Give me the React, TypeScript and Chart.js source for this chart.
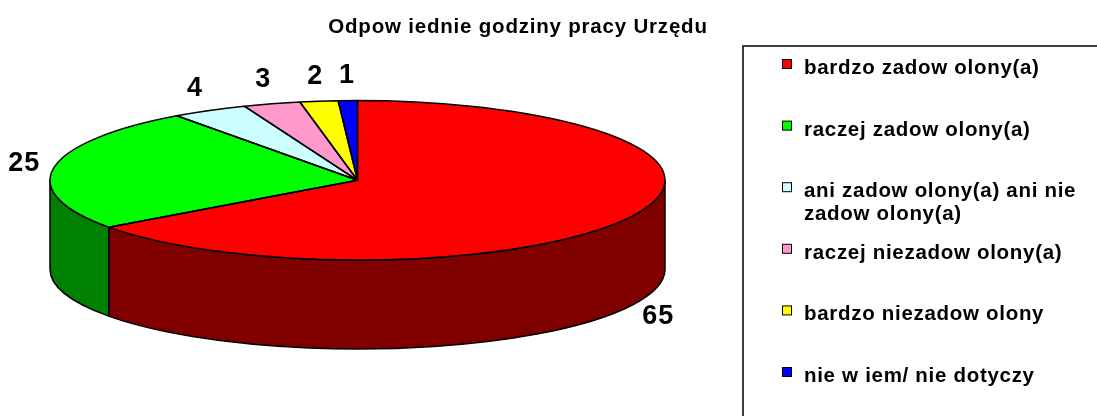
import React, { useEffect, useRef } from 'react';
import { Chart, registerables } from 'chart.js';

Chart.register(...registerables);

const title = 'Odpow iednie godziny pracy Urzędu';
const categories = [
  'bardzo zadow olony(a)',
  'raczej zadow olony(a)',
  'ani zadow olony(a) ani nie zadow olony(a)',
  'raczej niezadow olony(a)',
  'bardzo niezadow olony',
  'nie w iem/ nie dotyczy',
];
const values = [65, 25, 4, 3, 2, 1];
const topColors = ['#FF0000', '#00FF00', '#CCFFFF', '#FF99CC', '#FFFF00', '#0000FF'];
const sideColors = ['#800000', '#008000', '#668080', '#804C66', '#808000', '#000080'];

const FONT = '"Liberation Sans", Arial, sans-serif';
const PIE = { cx: 357.5, cy: 180.3, rx: 307.5, ry: 79.7, depth: 89 };
const LEGEND = { left: 743, top: 46, boxX: 782.5, textX: 804, firstBase: 74, rowGap: 61.6, lineGap: 23, maxW: 290 };

function wrap(ctx: CanvasRenderingContext2D, text: string, maxW: number): string[] {
  const words = text.split(' ');
  const lines: string[] = [];
  let cur = '';
  for (const w of words) {
    const t = cur ? cur + ' ' + w : w;
    if (cur && ctx.measureText(t).width > maxW) {
      lines.push(cur);
      cur = w;
    } else cur = t;
  }
  if (cur) lines.push(cur);
  return lines;
}

const pie3d = {
  id: 'pie3d',
  beforeDatasetsDraw(chart: any) {
    const ctx: CanvasRenderingContext2D = chart.ctx;
    const arcs = chart.getDatasetMeta(0).data;
    const { cx, cy, rx, ry, depth } = PIE;
    ctx.save();
    ctx.lineWidth = 1.5;
    ctx.strokeStyle = '#000';
    ctx.lineJoin = 'round';
    arcs.forEach((arc: any, i: number) => {
      const a0 = Math.max(arc.startAngle, 0);
      const a1 = Math.min(arc.endAngle, Math.PI);
      if (a1 <= a0) return;
      ctx.beginPath();
      ctx.ellipse(cx, cy, rx, ry, 0, a0, a1);
      ctx.lineTo(cx + rx * Math.cos(a1), cy + depth + ry * Math.sin(a1));
      ctx.ellipse(cx, cy + depth, rx, ry, 0, a1, a0, true);
      ctx.closePath();
      ctx.fillStyle = sideColors[i];
      ctx.fill();
      ctx.stroke();
    });
    ctx.restore();
    const a = arcs[0];
    const R = a.outerRadius;
    ctx.save();
    ctx.translate(cx, cy);
    ctx.scale(rx / R, ry / R);
    ctx.translate(-a.x, -a.y);
  },
  afterDatasetsDraw(chart: any) {
    const ctx: CanvasRenderingContext2D = chart.ctx;
    ctx.restore();
    const arcs = chart.getDatasetMeta(0).data;
    const { cx, cy, rx, ry, depth } = PIE;
    ctx.save();
    ctx.lineWidth = 1.5;
    ctx.strokeStyle = '#000';
    ctx.lineJoin = 'round';
    arcs.forEach((arc: any) => {
      ctx.beginPath();
      ctx.moveTo(cx, cy);
      ctx.ellipse(cx, cy, rx, ry, 0, arc.startAngle, arc.endAngle);
      ctx.closePath();
      ctx.stroke();
    });
    // data labels
    ctx.fillStyle = '#000';
    ctx.font = `bold 27px ${FONT}`;
    (ctx as any).letterSpacing = '1px';
    ctx.textAlign = 'center';
    ctx.textBaseline = 'middle';
    arcs.forEach((arc: any, i: number) => {
      const mid = (arc.startAngle + arc.endAngle) / 2;
      const s = Math.sin(mid);
      const x = cx + (rx + 30) * Math.cos(mid);
      const y = cy + (ry + 25) * s + (s > 0 ? depth : 0);
      ctx.fillText(String(chart.data.datasets[0].data[i]), x, y);
    });
    ctx.restore();
  },
  afterDraw(chart: any) {
    const ctx: CanvasRenderingContext2D = chart.ctx;
    ctx.save();
    // title
    ctx.fillStyle = '#000';
    ctx.font = `bold 20.5px ${FONT}`;
    (ctx as any).letterSpacing = '0.8px';
    ctx.textAlign = 'center';
    ctx.textBaseline = 'alphabetic';
    ctx.fillText(title, 518, 33);
    // legend box
    ctx.lineWidth = 1.5;
    ctx.strokeStyle = '#000';
    ctx.beginPath();
    ctx.moveTo(LEGEND.left, 430);
    ctx.lineTo(LEGEND.left, LEGEND.top);
    ctx.lineTo(1110, LEGEND.top);
    ctx.stroke();
    // legend items
    ctx.font = `bold 20.5px ${FONT}`;
    (ctx as any).letterSpacing = '0.7px';
    ctx.textAlign = 'left';
    const labels: string[] = chart.data.labels;
    const colors: string[] = chart.data.datasets[0].backgroundColor;
    labels.forEach((lab, i) => {
      const base = LEGEND.firstBase + i * LEGEND.rowGap;
      ctx.fillStyle = colors[i];
      ctx.fillRect(LEGEND.boxX, base - 14.5, 9, 9);
      ctx.lineWidth = 1;
      ctx.strokeRect(LEGEND.boxX, base - 14.5, 9, 9);
      ctx.fillStyle = '#000';
      const lines = wrap(ctx, lab, LEGEND.maxW);
      lines.forEach((ln, j) => ctx.fillText(ln, LEGEND.textX, base + j * LEGEND.lineGap));
    });
    ctx.restore();
  },
};

export default function App() {
  const ref = useRef<HTMLCanvasElement | null>(null);
  useEffect(() => {
    if (!ref.current) return;
    const chart = new Chart(ref.current, {
      type: 'pie',
      data: {
        labels: categories,
        datasets: [
          {
            data: values,
            backgroundColor: topColors,
            borderWidth: 0,
          },
        ],
      },
      options: {
        responsive: false,
        animation: false,
        events: [],
        layout: { padding: 0 },
        plugins: {
          legend: { display: false },
          tooltip: { enabled: false },
          title: { display: false },
        },
      },
      plugins: [pie3d],
    });
    return () => chart.destroy();
  }, []);
  return (
    <div style={{ position: 'absolute', left: 0, top: 0, width: 1097, height: 416, background: '#fff' }}>
      <canvas ref={ref} width={1097} height={416} style={{ display: 'block' }} />
    </div>
  );
}
